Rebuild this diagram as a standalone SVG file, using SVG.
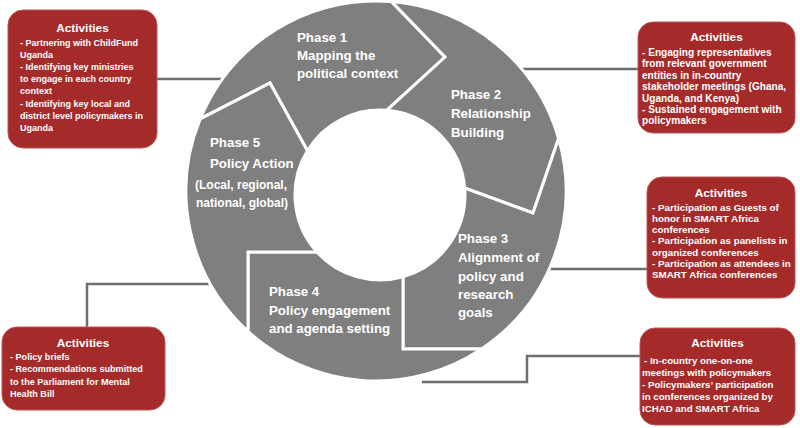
<svg xmlns="http://www.w3.org/2000/svg" width="800" height="428" viewBox="0 0 800 428">
<style>
.seg{fill:#7f7f7f;stroke:#ffffff;stroke-width:3;stroke-linejoin:miter}
.pt{font-family:"Liberation Sans",Arial,sans-serif;font-weight:bold;font-size:13.3px;fill:#ffffff}
.ps{font-size:12px}
.box{fill:#a52a2a;stroke:#bb5555;stroke-width:1}
.ah{font-family:"Liberation Sans",Arial,sans-serif;font-weight:bold;font-size:11.8px;fill:#ffffff;text-anchor:middle}
.al{font-family:"Liberation Sans",Arial,sans-serif;font-weight:bold;fill:#ffffff}
.con{fill:none;stroke:#6e6e6e;stroke-width:2.5}
</style>
<rect width="800" height="428" fill="#ffffff"/>
<g id="connectors">
<path class="con" d="M157,79 H224"/>
<path class="con" d="M520,69 H638"/>
<path class="con" d="M548,269 H647"/>
<path class="con" d="M422,382 H527 V356 H640"/>
<path class="con" d="M209,284 H87 V327"/>
</g>
<g id="phase1">
<path class="seg" d="M200.2,118.9 L270,83 L307.4,150.8 A85,85 0 0,1 386.7,110.3 L445,57 L391.6,1.6 A190,190 0 0,0 200.2,118.9 Z"/>
<text class="pt" x="297" y="42">Phase 1</text>
<text class="pt" x="297" y="60">Mapping the</text>
<text class="pt" x="297" y="78">political context</text>
</g>
<g id="phase2">
<path class="seg" d="M391.6,1.6 L445,57 L386.7,110.3 A85,85 0 0,1 464.7,188 L533,213 L558.6,138.4 A190,190 0 0,0 391.6,1.6 Z"/>
<text class="pt" x="451" y="99">Phase 2</text>
<text class="pt" x="451" y="118">Relationship</text>
<text class="pt" x="451" y="137">Building</text>
</g>
<g id="phase3">
<path class="seg" d="M558.6,138.4 L533,213 L464.7,188 A85,85 0 0,1 403,276.8 L403,349 L481.5,349 A190,190 0 0,0 558.6,138.4 Z"/>
<text class="pt" x="458" y="243">Phase 3</text>
<text class="pt" x="458" y="262">Alignment of</text>
<text class="pt" x="458" y="280.5">policy and</text>
<text class="pt" x="458" y="299">research</text>
<text class="pt" x="458" y="317">goals</text>
</g>
<g id="phase4">
<path class="seg" d="M481.5,349 L403,349 L403,276.8 A85,85 0 0,1 316.9,252 L248,252 L248,331.4 A190,190 0 0,0 481.5,349 Z"/>
<text class="pt" x="269" y="296">Phase 4</text>
<text class="pt" x="269" y="315">Policy engagement</text>
<text class="pt" x="269" y="333">and agenda setting</text>
</g>
<g id="phase5">
<path class="seg" d="M248,331.4 L248,252 L316.9,252 A85,85 0 0,1 307.4,150.8 L270,83 L200.2,118.9 A190,190 0 0,0 248,331.4 Z"/>
<text class="pt" x="210" y="147">Phase 5</text>
<text class="pt" x="210" y="168">Policy Action</text>
<text class="pt ps" x="195" y="189">(Local, regional,</text>
<text class="pt ps" x="196" y="207">national, global)</text>
</g>
<g id="activities1">
<rect class="box" x="8" y="10" width="149" height="138" rx="15"/>
<text class="ah" x="82.5" y="32">Activities</text>
<g class="al" font-size="9px">
<text x="20" y="45.5">- Partnering with ChildFund</text>
<text x="20" y="57.7">Uganda</text>
<text x="20" y="69.9">- Identifying key ministries</text>
<text x="20" y="82.1">to engage in each country</text>
<text x="20" y="94.3">context</text>
<text x="20" y="106.5">- Identifying key local and</text>
<text x="20" y="118.7">district level policymakers in</text>
<text x="20" y="130.9">Uganda</text>
</g>
</g>
<g id="activities2">
<rect class="box" x="638" y="22" width="157" height="111" rx="15"/>
<text class="ah" x="716.5" y="40.5">Activities</text>
<g class="al" font-size="10.1px">
<text x="642" y="56">- Engaging representatives</text>
<text x="642" y="67.4">from relevant government</text>
<text x="642" y="78.8">entities in in-country</text>
<text x="642" y="90.2">stakeholder meetings (Ghana,</text>
<text x="642" y="101.6">Uganda, and Kenya)</text>
<text x="642" y="113">- Sustained engagement with</text>
<text x="642" y="124.4">policymakers</text>
</g>
</g>
<g id="activities3">
<rect class="box" x="647" y="177" width="148" height="121" rx="15"/>
<text class="ah" x="721" y="197">Activities</text>
<g class="al" font-size="9.8px">
<text x="652" y="210.7">- Participation as Guests of</text>
<text x="652" y="221.9">honor in SMART Africa</text>
<text x="652" y="233.1">conferences</text>
<text x="652" y="244.3">- Participation as panelists in</text>
<text x="652" y="255.5">organized conferences</text>
<text x="652" y="266.7">- Participation as attendees in</text>
<text x="652" y="277.9">SMART Africa conferences</text>
</g>
</g>
<g id="activities4">
<rect class="box" x="640" y="328" width="155" height="97" rx="15"/>
<text class="ah" x="717.5" y="346.5">Activities</text>
<g class="al" font-size="9.7px">
<text x="644" y="364">- In-country one-on-one</text>
<text x="642" y="376">meetings with policymakers</text>
<text x="642" y="388">- Policymakers’ participation</text>
<text x="642" y="400">in conferences organized by</text>
<text x="642" y="412">ICHAD and SMART Africa</text>
</g>
</g>
<g id="activities5">
<rect class="box" x="2" y="327" width="163" height="83" rx="15"/>
<text class="ah" x="83" y="347">Activities</text>
<g class="al" font-size="9.1px">
<text x="10" y="359.5">- Policy briefs</text>
<text x="10" y="372">- Recommendations submitted</text>
<text x="10" y="384.5">to the Parliament for Mental</text>
<text x="10" y="397">Health Bill</text>
</g>
</g>
</svg>
